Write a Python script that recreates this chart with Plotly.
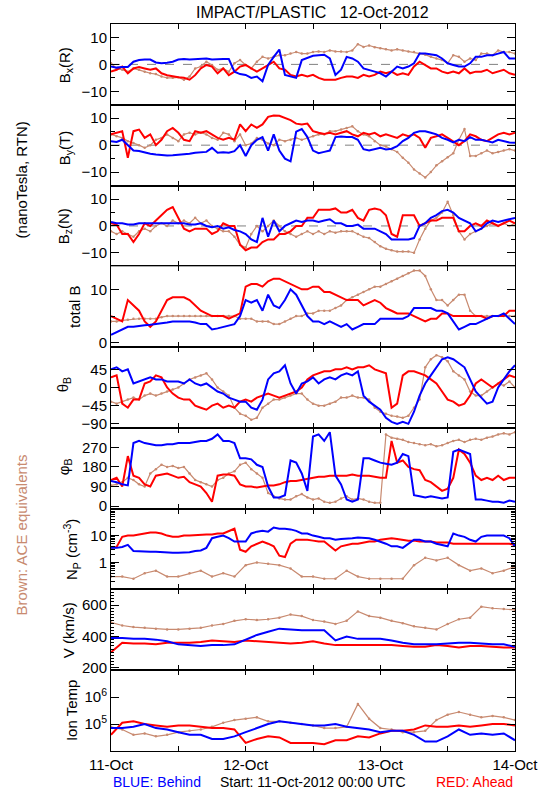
import plotly.graph_objects as go
from plotly.subplots import make_subplots

# ---------------- data (hours since 11-Oct-2012 00:00 UTC) ----------------
hours_1h = [0, 1, 2, 3, 4, 5, 6, 7, 8, 9, 10, 11, 12, 13, 14, 15, 16, 17, 18, 19, 20, 21, 22, 23,
            24, 25, 26, 27, 28, 29, 30, 31, 32, 33, 34, 35, 36, 37, 38, 39, 40, 41, 42, 43, 44, 45, 46, 47,
            48, 49, 50, 51, 52, 53, 54, 55, 56, 57, 58, 59, 60, 61, 62, 63, 64, 65, 66, 67, 68, 69, 70, 71, 72]
hours_2h = [0, 2, 4, 6, 8, 10, 12, 14, 16, 18, 20, 22, 24, 26, 28, 30, 32, 34, 36,
            38, 40, 42, 44, 46, 48, 50, 52, 54, 56, 58, 60, 62, 64, 66, 68, 70, 72]

# Bx (R), nT -- hourly
bx_blue = [-0.8, -1.2, -1, -1, 1, 1.6, 1.8, 1.8, 0.7, 0.4, 0.6, 1, 1.8, 2, 1.8, 2, 2, 2.2, 1.8, 2, 2, 2, -2.7, -3.6,
           -3.9, -5, -4.5, -6.3, -0.2, 2.8, 5.5, -3.9, -4.5, -5, 1.6, 2.5, 3.2, 3.4, 3.6, 2.2, -3.9, -2, 2.8, 2.2, 1, -1.5, -2, -2.7,
           -3.3, -4.5, -2.7, -0.8, -1.5, -0.8, 0.4, 4, 4, 3.6, 3.4, 2.2, 0.4, -0.2, -0.8, -0.8, 0.4, 2.8, 2.8, 3.4, 3.4, 4, 4.6, 2.2, 2.2]
bx_red = [-2.7, -2, -0.8, -3.3, -1.5, -1, -1.5, -2, -1.5, -3.3, -4, -4.5, -4.8, -5, -5.7, -4, -1.5, -0.2, -0.8, -3.3, -1.5, -4, -2.7, -0.8,
          -0.2, -1.5, -2.7, -1.5, -0.2, 1, -1.5, -2, -3.9, -4.5, -3.9, -4.5, -3.9, -5, -5.7, -5.7, -5.7, -5, -4.5, -4.5, -5, -3.9, -4.5, -3.9,
          -2.7, -3.3, -2.7, -3.9, -3.3, -3.9, -0.8, 1, -0.2, -1.5, -1.5, -2.7, -3.3, -2.7, -3.3, -1.5, -3.3, -2.7, -2.7, -2, -3.3, -2.7, -2, -3.3, -3.9]
bx_ace = [0.4, -1.5, -2, -2.7, -1.5, -2, -2.7, -3.3, -3.6, -4.5, -5, -5, -4.8, -5.7, -4.5, -1.5, -0.8, 1, -0.2, -2, -1.5, -2.7, 0.4, 1.6,
          -0.2, -1.5, 1, 2.8, 2.2, 2.8, 3.4, 3.4, 4, 4.6, 4, 4, 4.6, 4.8, 4.6, 5.2, 4.8, 4.8, 4.6, 5.2, 7.5, 6.5, 7, 6.4,
          6, 5.6, 5.2, 5.6, 5.2, 4.8, 4.6, 4, 3.6, 2.8, 2.2, 1.6, 0.4, 3.4, 2.8, 1, 2.2, 1.6, 4, 4, 3.4, 5.2, 4.6, 4.6, 4]

# By (T), nT -- hourly
by_blue = [1.5, 1.2, 2, 0, -2, -2.2, -2.8, -3.2, -3.5, -3.7, -3.8, -3.7, -3.5, -3.5, -3.2, -2.8, -2.6, -2.5, -1, -2.8, -2.6, -2.8, -2.2, 0,
           -4, 0, 2, 3, -2, 4, -2, -5, -6, 5, 6, 3, -2, -3, -2.5, -2, 3, 3.2, 3, 3, 2, -1.5, -2, -1.5,
           -1, -1.6, -1.3, -0.4, 1.5, 2.7, 4.6, 5.2, 5.2, 4.6, 4, 2.7, 2, 1, 2, 1.5, 3, 2, 2, 1.5, 1, 2, 1.5, 1, 0.9]
by_red = [4, 4.6, 5.2, -4.7, 5.2, 5.8, 2.7, 4, 0, 2, 5.2, 6.4, 4.6, 2, 1.5, 5.2, 4.6, 5.2, 4, 2.7, 2, 2.7, 2, 7.7,
          5.2, 7.7, 6.4, 7.7, 10.5, 11, 10.9, 10, 9.3, 8, 7.7, 8, 5.2, 4.6, 4.2, 4.6, 4, 4.6, 5.2, 4, 3.3, 4.6, 4, 4.6,
          3.3, 4, 3.3, 2.7, 4, 3.3, 4, 2.7, -1, 2.7, 3.3, 4, 2.7, 1.5, 0, 1.5, 4, 3.3, 2, 1.5, 2.7, 4, 4.6, 4, 4.6]
by_ace = [4, 3.3, 2.7, 1.5, 0.8, 0, -1, 0, 2, 2.7, 4, 2.7, 1.5, 4, 4.6, 4, 4.6, 4, 2.7, 2, 4.6, 4, 1.5, 4,
          0, 0.6, 2.7, 2, 0.6, 0, 2, 1.5, 2, 2.7, 2, 2.7, 3.3, 4, 4, 5.2, 5.2, 5.8, 6.4, 7, 5.2, 4, 3.3, 1.5,
          0, -0.5, -1.5, -2.5, -4.7, -6.5, -9, -10.5, -12, -10, -7.5, -6, -4.5, -3, 2, 6, -4, -4, -3, -2, -3, -2.5, -2, -1.5, -2]

# Bz (N), nT -- hourly
bz_blue = [1.5, 1, 1, 0.5, 0.5, 1, 1, 1, 1, 1, 1, 1, 1, 1, 0.5, 0.5, 1, 0, -0.5, 0, -1, -0.5, -1.5, -2,
           -3, -5, -6, 3, -4, 2, -2, 0, 1, 2, 1.5, 2, 2, 1.5, 2, 2.5, 1, 1, 0, 0, 0.5, -1, -1, -1,
           -2, -3, -5, -5, -5, -5, -4.5, 0, 1, 3, 4, 5.5, 6, 5, 3, 2, 1, -2, -1, 1, 2, 1.5, 2, 2.5, 3]
bz_red = [1, 0.5, -3, -3, -6, -3, 1, 0, 2, 4, 6, 7, 3, -1, -2, -1, -1, -1, -3, -2, 1, 0, 0, -7,
          -9, -8, -8, -6, -5, -5, -3, -3, -2, 0, 0, 3, 3, 6, 6, 6, 6.5, 5, 5, 6, 3, 2, 6, 6.5,
          6, 4, -3, -4, 4, 4, 4, 0, 1, 2, 2, 3, 3, 3, -2, -2, 0, 1, 0, 2, 1, 0, 1, 2, 1]
bz_ace = [-2, -3, -2, -3, -4, -2, -1, -2, 0, 1, 0, 2, 1, 2, 1, 3, 1, 2, 0, -1, -2, -2, -4, -7,
          -8, -3, 0, -2, 0, 2, 0, -2, -3, -4, -3, -2, -3, -2, -3, -2, -2.5, -2, -2, -2, -3, -4, -4.5, -6,
          -7.5, -8.5, -9, -9.5, -9.5, -9.5, -10, -5, -1, 2, 3, 5, 9, 4, -2, -5, -3, -2, -1, 0, 1, 0, 1, 0, 1]

# |B|, nT -- hourly
bt_blue = [1.5, 2, 2.5, 3, 3, 3.2, 3.3, 3.4, 3.5, 3.7, 3.8, 4, 4, 4, 4, 3.8, 3.5, 3.5, 2.5, 2.7, 3, 3.3, 3.5, 5,
           8, 7.5, 8, 6, 9, 7, 6.5, 8, 10, 9, 7, 5, 4, 4, 3.5, 4, 3.5, 3, 3.5, 2.5, 3, 3.5, 3.5, 3.5,
           4.5, 4.5, 4.5, 4.5, 4.5, 5, 6.5, 6.5, 6.5, 6.5, 6, 6, 5.5, 4, 2.5, 3, 3.5, 3.5, 4, 4.5, 5, 5, 5.5, 4.5, 3.5]
bt_red = [5, 4.5, 4, 8, 7, 6, 4, 3, 4, 6, 8, 8.5, 8.5, 8.5, 8, 7, 6, 5.5, 5, 5, 5, 4.5, 5, 5.5,
          10.5, 11, 11, 10.5, 11.5, 12, 12, 11.5, 11, 10.5, 10, 10, 10.5, 10.5, 9.5, 9.5, 9, 8.5, 8, 8, 8, 7, 7.5, 8,
          7.5, 6.5, 6, 5.5, 5.5, 5.5, 5, 4.5, 4, 4.5, 4.5, 5.5, 5.5, 5, 5, 5, 5, 5, 5, 4.5, 5, 5, 5, 6, 6]
bt_ace = [4, 4, 4.2, 4.3, 4.5, 4.5, 4.5, 4.5, 4.5, 4.8, 5, 5, 5, 5, 5, 5, 5, 5, 5, 5, 5, 5, 5, 4.5,
          4.5, 4.5, 4, 4, 4, 3.5, 3.5, 4, 4.5, 5, 5, 5.5, 5.5, 6, 6, 6, 6.5, 7, 8, 8.5, 9, 9.5, 10, 10.5,
          10.5, 11, 11.5, 12, 12.5, 13, 13.5, 13.5, 12.5, 10, 8, 8, 7, 8, 9, 9, 6, 5, 5, 5, 5, 5, 5, 5, 5]

# theta_B, deg -- hourly
th_blue = [45, 50, 40, 45, 10, 15, 20, 25, 20, 20, 15, 15, 15, 10, 20, 10, 5, 10, 0, -10, -15, -25, -30, -35,
           -35, -50, -55, -30, 20, 35, 40, 55, 10, -15, 10, 15, 25, 10, 20, 25, 20, 30, 35, 30, 40, -20, -35, -45,
           -55, -75, -85, -90, -85, -90, -60, -20, 10, 30, 50, 70, 75, 70, 60, 50, 20, -10, -25, -40, -35, 0, 20, 40, 55]
th_red = [25, 30, -40, -50, -30, -30, 10, 15, 30, 25, 0, -15, -25, -30, -30, -45, -50, -55, -45, -40, -50, -45, -50, -35,
          -30, -35, -25, -20, -15, -20, -25, -20, -15, -10, 0, 20, 30, 35, 40, 40, 45, 45, 50, 45, 50, 50, 55, 45,
          40, 35, -50, -40, 30, 40, 40, 35, 30, 20, 10, -10, -30, -35, -45, -40, -20, 10, 20, 10, 0, 10, 20, 30, 25]
th_ace = [-35, -40, -35, -30, -25, -30, -20, -15, -20, -15, -10, -5, 0, 10, 20, 25, 30, 35, 20, 0, -10, -20, -50, -65,
          -70, -80, -75, -50, -40, -30, -30, -25, -20, -15, -15, -30, -40, -45, -45, -40, -35, -25, -25, -20, -25, -25, -30, -50,
          -60, -65, -70, -72, -75, -70, -50, -30, 50, 70, 80, 75, 65, 40, 30, 20, -10, -20, -20, -10, 0, 10, 5, 15, 0]

# phi_B, deg -- hourly
ph_blue = [115, 110, 100, 95, 290, 300, 290, 285, 280, 280, 285, 285, 290, 290, 290, 295, 300, 300, 310, 330, 300, 300, 290, 220,
           220, 215, 190, 180, 90, 40, 40, 50, 210, 200, 150, 70, 320, 330, 300, 340, 140, 100, 30, 20, 30, 220, 220, 210,
           200, 195, 190, 200, 240, 230, 50, 45, 40, 45, 40, 35, 40, 250, 260, 250, 240, 30, 30, 25, 20, 20, 15, 25, 20]
ph_red = [120, 130, 90, 230, 140, 130, 100, 90, 140, 145, 150, 140, 130, 135, 110, 100, 90, 60, 20, 140, 145, 145, 140, 100,
          90, 90, 85, 90, 95, 95, 100, 110, 115, 115, 120, 125, 130, 135, 135, 140, 140, 140, 140, 145, 140, 140, 140, 135,
          130, 130, 300, 200, 210, 180, 170, 165, 120, 110, 90, 70, 80, 130, 260, 240, 200, 140, 120, 130, 120, 140, 120, 130, 130]
ph_ace = [95, 100, 110, 130, 120, 100, 90, 150, 170, 190, 180, 185, 175, 180, 150, 120, 110, 100, 90, 120, 130, 150, 160, 190,
          200, 170, 150, 130, 60, 45, 35, 30, 30, 45, 55, 40, 30, 35, 20, 15, 20, 35, 45, 30, 35, 30, 20, 15,
          15, 330, 315, 310, 305, 295, 290, 285, 280, 285, 275, 280, 290, 300, 305, 295, 305, 310, 305, 315, 320, 330, 335, 330, 340]

# proton density, cm^-3 -- hourly (STEREO), every 2 h (ACE)
np_blue = [3.5, 3.5, 3.8, 4.5, 2.7, 2.6, 2.5, 2.5, 2.5, 2.4, 2.4, 2.3, 2.3, 2.3, 2.4, 2.7, 2.8, 3.5, 8, 9, 10, 8, 6, 6,
           6, 12, 14, 15, 14, 20, 18, 18, 17, 15, 12, 12, 10, 9, 8, 8, 7, 7.5, 8, 8, 8.5, 8, 8, 7,
           6, 5, 4, 4, 3.5, 5, 7, 7, 6, 6, 5, 4.5, 4, 12, 10, 9, 7, 6, 9, 10, 10, 10, 10, 8, 4]
np_red = [3.5, 3.8, 9, 10, 10, 11, 12, 13, 13, 12, 10, 9, 9, 10, 10, 10.5, 11, 11, 11, 12, 12, 15, 18, 3,
          2.5, 4, 5, 6, 5, 4, 1.8, 1.6, 5, 7, 7, 7, 6.5, 6, 6, 4, 2.8, 4, 4.5, 5, 5, 5.5, 6, 6,
          7, 7.5, 8, 7.5, 7, 6.5, 6.5, 6, 6, 6, 5.5, 5.5, 5.5, 5, 5, 5, 5, 5, 5, 5, 5, 5, 5, 5, 4.5]
np_ace = [0.3, 0.3, 0.25, 0.4, 0.5, 0.3, 0.3, 0.4, 0.5, 0.3, 0.4, 0.3, 0.8, 1.0, 0.9, 0.8, 0.6, 0.3, 0.3,
          0.25, 0.25, 0.5, 0.3, 0.25, 0.25, 0.25, 0.25, 0.8, 1.5, 1.2, 1.5, 0.8, 0.5, 0.6, 0.4, 0.5, 0.7]

# bulk speed, km/s -- every 2 h
v_blue = [390, 390, 385, 385, 380, 370, 350, 345, 340, 345, 345, 350, 380, 410, 430, 450, 445, 440, 440,
          440, 375, 400, 385, 385, 385, 375, 360, 350, 350, 350, 355, 360, 360, 355, 350, 350, 335]
v_red = [300, 360, 355, 355, 350, 360, 360, 360, 365, 375, 370, 365, 375, 370, 365, 360, 355, 360, 370,
         355, 345, 345, 345, 345, 345, 345, 340, 335, 335, 345, 340, 330, 340, 340, 335, 330, 330]
v_ace = [490, 470, 460, 455, 450, 445, 445, 450, 455, 470, 480, 500, 510, 505, 510, 520, 540, 530, 505,
         495, 480, 500, 560, 530, 520, 500, 485, 465, 455, 445, 480, 510, 520, 590, 580, 575, 570]

# ion temperature, K -- every 2 h
t_blue = [7.1e4, 7.1e4, 7.9e4, 1.0e5, 7.1e4, 6.3e4, 5.0e4, 4.0e4, 4.0e4, 2.8e4, 2.8e4, 3.5e4, 5.0e4,
          7.1e4, 1.0e5, 1.26e5, 1.12e5, 1.0e5, 8.9e4, 8.9e4, 1.0e5, 7.9e4, 7.1e4, 6.3e4, 5.0e4,
          5.6e4, 5.6e4, 4.0e4, 2.24e4, 2.24e4, 3.5e4, 6.3e4, 4.0e4, 4.5e4, 4.0e4, 4.5e4, 2.5e4]
t_red = [4.0e4, 1.12e5, 1.26e5, 1.0e5, 8.9e4, 7.9e4, 8.9e4, 8.9e4, 7.9e4, 7.1e4, 7.1e4, 6.3e4, 2.0e4,
         2.8e4, 3.5e4, 3.2e4, 2.0e4, 2.0e4, 2.0e4, 1.78e4, 2.5e4, 2.5e4, 3.5e4, 3.2e4, 4.5e4,
         5.6e4, 5.6e4, 6.3e4, 8.9e4, 7.9e4, 7.9e4, 8.9e4, 7.9e4, 8.9e4, 1.0e5, 1.0e5, 8.9e4]
t_ace = [7.9e4, 6.3e4, 4.0e4, 4.5e4, 3.5e4, 4.0e4, 5.0e4, 5.6e4, 6.3e4, 7.9e4, 1.12e5, 1.41e5, 1.58e5,
         1.78e5, 1.26e5, 1.26e5, 1.12e5, 1.0e5, 8.9e4, 7.1e4, 7.1e4, 7.9e4, 5.6e5, 1.58e5, 7.1e4,
         6.3e4, 5.0e4, 5.0e4, 5.6e4, 1.41e5, 2.24e5, 2.8e5, 2.24e5, 1.78e5, 2.0e5, 1.78e5, 1.41e5]

day_ticks = [0, 24, 48, 72]
day_labels = ["11-Oct", "12-Oct", "13-Oct", "14-Oct"]

# ---------------- styling ----------------
BLUE = "#0000FF"
RED = "#FF0000"
BROWN = "#C88A70"
FONT = "Liberation Sans"
W, H = 550, 800
L, R, T, B = 111, 24, 24, 49
X0, X1, Y0, Y1 = L, W - R, T, H - B      # plot area in page pixels

# (x for ACE, ACE, x for Ahead/Behind, Ahead (red), Behind (blue))
panels = [
    (hours_1h, bx_ace, hours_1h, bx_red, bx_blue),
    (hours_1h, by_ace, hours_1h, by_red, by_blue),
    (hours_1h, bz_ace, hours_1h, bz_red, bz_blue),
    (hours_1h, bt_ace, hours_1h, bt_red, bt_blue),
    (hours_1h, th_ace, hours_1h, th_red, th_blue),
    (hours_1h, ph_ace, hours_1h, ph_red, ph_blue),
    (hours_2h, np_ace, hours_1h, np_red, np_blue),
    (hours_2h, v_ace, hours_2h, v_red, v_blue),
    (hours_2h, t_ace, hours_2h, t_red, t_blue),
]

fig = make_subplots(rows=9, cols=1, shared_xaxes=True, vertical_spacing=0)

for i, (xa, ace, xs, red, blue) in enumerate(panels, start=1):
    fig.add_trace(go.Scatter(x=xa, y=ace, mode="lines+markers",
                             line=dict(color=BROWN, width=1.2),
                             marker=dict(color=BROWN, size=2.5),
                             showlegend=False), row=i, col=1)
    fig.add_trace(go.Scatter(x=xs, y=red, mode="lines",
                             line=dict(color=RED, width=2),
                             showlegend=False), row=i, col=1)
    fig.add_trace(go.Scatter(x=xs, y=blue, mode="lines",
                             line=dict(color=BLUE, width=2),
                             showlegend=False), row=i, col=1)

axis_common = dict(showline=True, linecolor="black", linewidth=1, mirror="ticks",
                   ticks="inside", tickcolor="black", showgrid=False, zeroline=False,
                   tickfont=dict(family=FONT, size=15, color="black"))

for i in range(1, 10):
    fig.update_xaxes(range=[0, 72], tickvals=day_ticks, ticktext=day_labels, ticklen=5,
                     minor=dict(ticks="inside", ticklen=5, tickcolor="black", dtick=12, tick0=0),
                     **axis_common, row=i, col=1)

ymaj = dict(ticklen=8, minor=dict(ticks="inside", ticklen=4, tickcolor="black", dtick=5, tick0=0))
for i in (1, 2, 3):
    fig.update_yaxes(range=[-15, 15], tickvals=[-10, 0, 10], **ymaj, **axis_common, row=i, col=1)
    fig.add_hline(y=0, line=dict(color="gray", width=1, dash="dash"), layer="below", row=i, col=1)
fig.update_yaxes(range=[-0.8, 14.3], tickvals=[0, 10], **ymaj, **axis_common, row=4, col=1)
fig.update_yaxes(range=[-100, 100], tickvals=[-90, -45, 0, 45], ticklen=8, **axis_common, row=5, col=1)
fig.update_yaxes(range=[-12, 360], tickvals=[0, 90, 180, 270], ticklen=8, **axis_common, row=6, col=1)
fig.update_yaxes(type="log", range=[-1, 2], tickvals=[1, 10], ticktext=["1", "10"],
                 ticklen=8, minor=dict(ticks="inside", ticklen=4, tickcolor="black", dtick="D1"),
                 **axis_common, row=7, col=1)
fig.update_yaxes(range=[185, 700], tickvals=[200, 400, 600], ticklen=8,
                 minor=dict(ticks="inside", ticklen=3, tickcolor="black", dtick=20, tick0=0),
                 **axis_common, row=8, col=1)
fig.update_yaxes(type="log", range=[4, 7], tickvals=[1e5, 1e6],
                 ticktext=["10<sup>5</sup>", "10<sup>6</sup>"], ticklen=8,
                 **axis_common, row=9, col=1)


def px(x, y):
    return (x - X0) / (X1 - X0), (Y1 - y) / (Y1 - Y0)


annots = []


def add_text(text, x, y, size=15, color="black", angle=0, xanchor="center"):
    ax, ay = px(x, y)
    annots.append(dict(text=text, x=ax, y=ay, xref="paper", yref="paper",
                       showarrow=False, textangle=angle, xanchor=xanchor, yanchor="middle",
                       font=dict(family=FONT, size=size, color=color)))


add_text("IMPACT/PLASTIC   12-Oct-2012", 318, 12, size=16)
ytitles = [
    ("B<sub>x</sub>(R)", 64, 65),
    ("B<sub>y</sub>(T)", 64, 148),
    ("B<sub>z</sub>(N)", 64, 226),
    ("total B", 74, 306),
    ("θ<sub>B</sub>", 62, 385),
    ("φ<sub>B</sub>", 63, 467),
    ("N<sub>P</sub> (cm<sup>-3</sup>)", 70, 550),
    ("V (km/s)", 67, 630),
    ("Ion Temp", 70, 711),
]
for txt, x, y in ytitles:
    add_text(txt, x, y, size=15, angle=-90)

add_text("(nanoTesla, RTN)", 19, 180, size=15, angle=-90)
add_text("Brown: ACE equivalents", 19, 535, size=15, color=BROWN, angle=-90)
add_text("BLUE: Behind", 111, 782, size=14, color=BLUE, xanchor="left")
add_text("Start: 11-Oct-2012 00:00 UTC", 318, 782, size=14)
add_text("RED: Ahead", 526, 782, size=14, color=RED, xanchor="right")

fig.update_layout(width=W, height=H, margin=dict(l=L, r=R, t=T, b=B),
                  paper_bgcolor="white", plot_bgcolor="white",
                  annotations=annots, showlegend=False,
                  font=dict(family=FONT, size=15, color="black"))

# the page's default 8px body margin would shift the 550x800 figure; remove it
fig.write_html("out.html", config={"displayModeBar": False},
               post_script="document.body.style.margin='0px';")
